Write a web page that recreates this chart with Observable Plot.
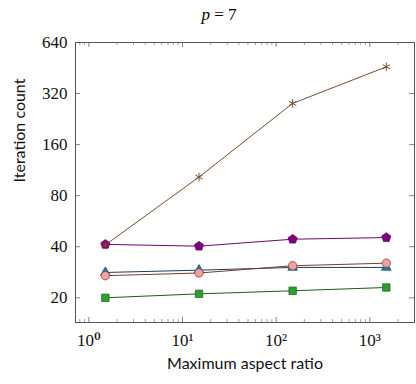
<!DOCTYPE html>
<html><head><meta charset="utf-8">
<script src="https://cdn.jsdelivr.net/npm/d3@7"></script>
<script src="https://cdn.jsdelivr.net/npm/@observablehq/plot@0.6"></script>
<style>
body{margin:0;background:#fff;}
#title{height:30px;width:416px;text-align:center;font-family:'Liberation Serif','Times New Roman',Times,'Noto Serif','DejaVu Serif',Tinos,serif;font-size:17px;line-height:30px;padding-left:22px;box-sizing:border-box;}
#title i{font-style:italic}
</style>
</head><body>
<div id="title"><i>p</i> = 7</div>
<div id="chart"></div>
<script>
const xs = [1.5, 15, 150, 1500];
const brownStar = [41, 103, 280, 460];
const purplePentagon = [41.3, 40.3, 44.3, 45.3];
const blueTriangle = [28.2, 29.1, 30.2, 30.2];
const pinkCircle = [27, 28, 30.9, 32];
const greenSquare = [20, 21.1, 22, 23];
const xTicks = [1, 10, 100, 1000];
const xTickLabels = ["10⁰", "10¹", "10²", "10³"];
const yTicks = [20, 40, 80, 160, 320, 640];
const xMinor = [0.8, 0.9, 2,3,4,5,6,7,8,9, 20,30,40,50,60,70,80,90, 200,300,400,500,600,700,800,900, 2000, 3000];

const xDomain = [0.72, 3000];
const yDomain = [14.3, 640];
const serifFont = "'Liberation Serif', 'Times New Roman', Times, 'Noto Serif', 'DejaVu Serif', Tinos, serif";

const series = [
  {name:"blue", ys: blueTriangle, line:"#1a3d5c", fill:"#1f77b4", stroke:"#1a3d5c", symbol:"triangle", r:3.6},
  {name:"pink", ys: pinkCircle, line:"#7a3b2e", fill:"#f4a0a0", stroke:"#7a3b2e", symbol:"circle", r:4.2},
  {name:"green", ys: greenSquare, line:"#1f5a1f", fill:"#2ca02c", stroke:"#1f5a1f", symbol:"square", r:4.2},
  {name:"purple", ys: purplePentagon, line:"#6a0a6a", fill:"#800080", stroke:"#5a005a", symbol:"pentagon", r:4.2},
  {name:"brown", ys: brownStar, line:"#7a4a2e", fill:"none", stroke:"#7a4a2e", symbol:"asterisk", r:4}
];

const pentagon = {
  draw(context, size) {
    const r = Math.sqrt(size / 2.378);
    for (let i = 0; i < 5; i++) {
      const a = -Math.PI/2 + i * 2*Math.PI/5;
      const x = r*Math.cos(a), y = r*Math.sin(a);
      if (i === 0) context.moveTo(x, y); else context.lineTo(x, y);
    }
    context.closePath();
  }
};

const rows = s => xs.map((x,i)=>({x, y:s.ys[i]}));

const W = 416, H = 354, mL = 75, mR = 2, mT = 12, mB = 62;
const xPxPerDec = (W - mL - mR) / Math.log10(xDomain[1]/xDomain[0]);
const yPxPerDbl = (H - mT - mB) / Math.log2(yDomain[1]/yDomain[0]);
const fy = px => Math.pow(2, px / yPxPerDbl);
const fx = px => Math.pow(10, px / xPxPerDec);

const tickColor = "#666";
const marks = [];
marks.push(Plot.ruleX(xTicks, {x: d=>d, y1: yDomain[0], y2: yDomain[0]*fy(5), stroke: tickColor, strokeWidth:0.8}));
marks.push(Plot.ruleX(xTicks, {x: d=>d, y1: yDomain[1], y2: yDomain[1]/fy(5), stroke: tickColor, strokeWidth:0.8}));
marks.push(Plot.ruleX(xMinor, {x: d=>d, y1: yDomain[0], y2: yDomain[0]*fy(3), stroke: tickColor, strokeWidth:0.6}));
marks.push(Plot.ruleX(xMinor, {x: d=>d, y1: yDomain[1], y2: yDomain[1]/fy(3), stroke: tickColor, strokeWidth:0.6}));
marks.push(Plot.ruleY(yTicks, {y: d=>d, x1: xDomain[0], x2: xDomain[0]*fx(5), stroke: tickColor, strokeWidth:0.8}));
marks.push(Plot.ruleY(yTicks, {y: d=>d, x1: xDomain[1], x2: xDomain[1]/fx(5), stroke: tickColor, strokeWidth:0.8}));
for (const s of series) {
  marks.push(Plot.line(rows(s), {x:"x", y:"y", stroke: s.line, strokeWidth: 1}));
}
for (const s of series) {
  marks.push(Plot.dot(rows(s), {x:"x", y:"y", symbol: s.symbol === "pentagon" ? pentagon : s.symbol, r: s.r,
    fill: s.fill, stroke: s.stroke, strokeWidth: s.symbol === "asterisk" ? 1 : 0.7}));
}
marks.push(Plot.frame({stroke:"#555", strokeWidth:1}));
marks.push(Plot.text(xTicks, {x: d=>d, frameAnchor:"bottom", dy: 23, text: (d,i)=>xTickLabels[i],
  fontFamily: serifFont, fontSize: 17, fill:"#111"}));
marks.push(Plot.text(yTicks, {y: d=>d, frameAnchor:"left", dx: -8, textAnchor:"end", text: d=>String(d),
  fontFamily: serifFont, fontSize: 17, fill:"#111"}));
marks.push(Plot.text(["Maximum aspect ratio"], {frameAnchor:"bottom", dy: 46, text: d=>d,
  fontFamily:"Lato", fontSize: 16, fill:"#111"}));
marks.push(Plot.text(["Iteration count"], {frameAnchor:"left", dx: -56, rotate: -90, text: d=>d,
  fontFamily:"Lato", fontSize: 16, fill:"#111"}));

const chart = Plot.plot({
  width: W, height: H,
  marginLeft: mL, marginRight: mR, marginTop: mT, marginBottom: mB,
  x: {type:"log", domain: xDomain, axis: null},
  y: {type:"log", base: 2, domain: yDomain, axis: null},
  style: {background:"#fff", overflow:"visible"},
  marks
});
document.getElementById("chart").appendChild(chart);
</script>
</body></html>
